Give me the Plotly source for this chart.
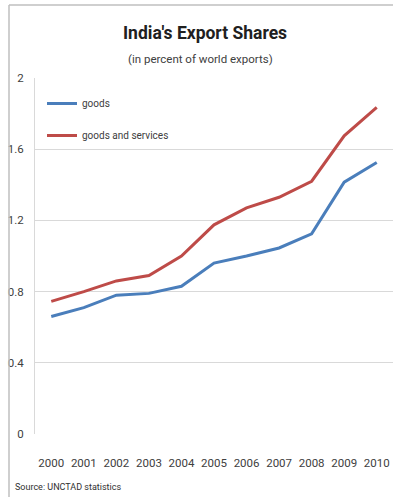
import plotly.graph_objects as go

years = ["2000", "2001", "2002", "2003", "2004", "2005", "2006", "2007", "2008", "2009", "2010"]
goods = [0.66, 0.71, 0.78, 0.79, 0.83, 0.96, 1.00, 1.045, 1.125, 1.415, 1.525]
goods_services = [0.745, 0.80, 0.86, 0.89, 1.00, 1.175, 1.27, 1.33, 1.42, 1.675, 1.835]
y_ticks = [0, 0.4, 0.8, 1.2, 1.6, 2]
y_tick_text = ["0", "0.4", "0.8", "1.2", "1.6", "2"]

FONT = "Liberation Sans Narrow, Arial Narrow, Roboto, sans-serif"
TEXT = "#404040"

W, H = 393, 497
L, R, T, B = 35, 0, 78, 497 - 434
plot_w = W - L - R
plot_h = H - T - B


def px_x(x):
    # window pixel -> plot-area paper coordinate
    return (x - L) / plot_w


def px_y(y):
    return (H - B - y) / plot_h


fig = go.Figure()
fig.add_trace(go.Scatter(x=years, y=goods, mode="lines", name="goods",
                         legendgroup="a",
                         line=dict(color="#4A7EBB", width=3)))
fig.add_trace(go.Scatter(x=years, y=goods_services, mode="lines", name="goods and services",
                         legendgroup="b",
                         line=dict(color="#BE4B48", width=3)))

fig.update_layout(
    width=W, height=H,
    margin=dict(l=L, r=R, t=T, b=B, autoexpand=False),
    paper_bgcolor="white", plot_bgcolor="white",
    font=dict(family=FONT, size=12, color=TEXT),
    showlegend=True,
    legend=dict(x=px_x(42), y=px_y(89), xanchor="left", yanchor="top",
                bgcolor="rgba(0,0,0,0)", font=dict(size=10, color=TEXT),
                traceorder="grouped", tracegroupgap=13, itemwidth=30),
    xaxis=dict(type="category", showgrid=False, zeroline=False, automargin=False,
               showline=False, ticks="", ticklabelstandoff=20,
               tickfont=dict(size=11.5, color=TEXT), range=[-0.5, 10.5]),
    yaxis=dict(range=[0, 2], tickvals=y_ticks, ticktext=y_tick_text, automargin=False,
               showgrid=True, gridcolor="#D9D9D9", gridwidth=1,
               zeroline=False, showline=True, linecolor="#D9D9D9",
               ticks="", ticklabelstandoff=8,
               tickfont=dict(size=11.5, color=TEXT)),
    annotations=[
        dict(text="<b>India's Export Shares</b>", x=px_x(205), y=px_y(33),
             xref="paper", yref="paper", xanchor="center", yanchor="middle",
             showarrow=False, font=dict(size=17.5, color="#202020")),
        dict(text="(in percent of world exports)", x=px_x(200), y=px_y(59),
             xref="paper", yref="paper", xanchor="center", yanchor="middle",
             showarrow=False, font=dict(size=11.5, color=TEXT)),
        dict(text="Source: UNCTAD statistics", x=px_x(13), y=px_y(487),
             xref="paper", yref="paper", xanchor="left", yanchor="middle",
             showarrow=False, font=dict(size=9, color="#303030")),
    ],
    shapes=[
        # outer chart frame: left and top edges
        dict(type="line", xref="paper", yref="paper", x0=px_x(9), x1=px_x(9),
             y0=px_y(500), y1=px_y(5), line=dict(color="#BFBFBF", width=1.5)),
        dict(type="line", xref="paper", yref="paper", x0=px_x(9), x1=px_x(400),
             y0=px_y(5), y1=px_y(5), line=dict(color="#BFBFBF", width=1.5)),
    ],
)

# drop the default 8px body margin so the figure fills the window exactly
fig.write_html("out.html",
               config={"displayModeBar": False},
               post_script="document.body.style.margin='0';"
                           "document.body.style.overflow='hidden';"
                           "document.documentElement.style.overflow='hidden';")
